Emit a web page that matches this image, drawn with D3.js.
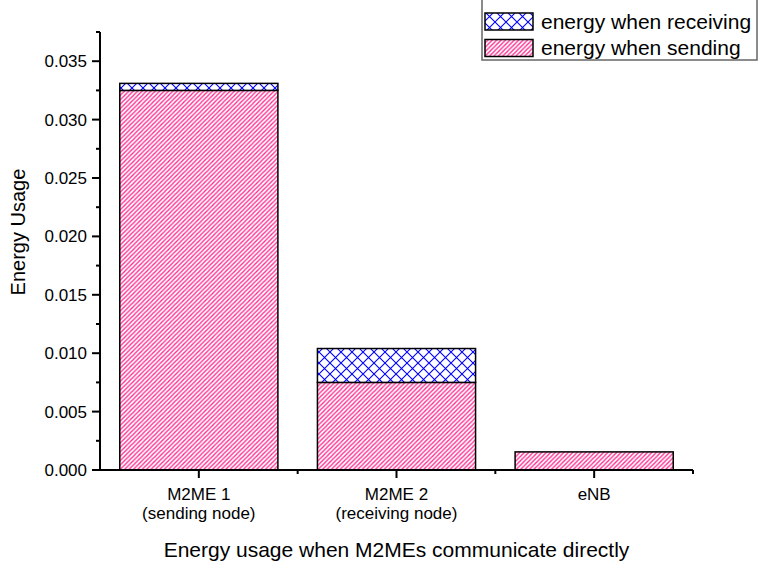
<!DOCTYPE html>
<head>
<meta charset="utf-8">
<script src="https://d3js.org/d3.v7.min.js"></script>
</head>
<style>
body { margin: 0; background: #fff; }
text { font-family: "Liberation Sans", Arial, sans-serif; fill: #000; }
.bar { stroke: #000; stroke-width: 1.5px; }
</style>
<body>
<script>
// data
var categories = ["M2ME 1", "M2ME 2", "eNB"];
var subLabels = ["(sending node)", "(receiving node)", ""];
var sending = [0.0325, 0.0075, 0.00155];
var receiving = [0.0006, 0.0029, 0];
var yTicks = [0, 0.005, 0.010, 0.015, 0.020, 0.025, 0.030, 0.035];
var seriesNames = ["energy when receiving", "energy when sending"];

var W = 758, H = 562;
var plotLeft = 100, plotRight = 693, plotTop = 32, plotBottom = 470;

var svg = d3.select("body").append("svg")
    .attr("width", W)
    .attr("height", H);

// hatch patterns
var defs = svg.append("defs");
var ps = defs.append("pattern")
    .attr("id", "sendHatch")
    .attr("patternUnits", "userSpaceOnUse")
    .attr("width", 4.4).attr("height", 4.4);
ps.append("rect").attr("width", 4.4).attr("height", 4.4).attr("fill", "#fff");
ps.append("path")
    .attr("d", "M-1,1 L1,-1 M0,4.4 L4.4,0 M3.4,5.4 L5.4,3.4")
    .attr("stroke", "#ff2a90").attr("stroke-width", 1.4);

var pr = defs.append("pattern")
    .attr("id", "recvHatch")
    .attr("patternUnits", "userSpaceOnUse")
    .attr("width", 11).attr("height", 11);
pr.append("rect").attr("width", 11).attr("height", 11).attr("fill", "#fff");
pr.append("path")
    .attr("d", "M0,0 L11,11 M0,11 L11,0")
    .attr("stroke", "#0000ff").attr("stroke-width", 1.1);

var x = d3.scaleBand()
    .domain(categories)
    .range([plotLeft, plotRight])
    .paddingInner(0.2)
    .paddingOuter(0.1);

var y = d3.scaleLinear()
    .domain([0, 0.0375])
    .range([plotBottom, plotTop]);

// bars: sending at the bottom, receiving stacked on top
svg.selectAll(".send")
    .data(categories)
  .enter().append("rect")
    .attr("class", "bar send")
    .attr("x", function(d) { return x(d); })
    .attr("width", x.bandwidth())
    .attr("y", function(d, i) { return y(sending[i]); })
    .attr("height", function(d, i) { return y(0) - y(sending[i]); })
    .attr("fill", "url(#sendHatch)");

svg.selectAll(".recv")
    .data(categories.filter(function(d, i) { return receiving[i] > 0; }))
  .enter().append("rect")
    .attr("class", "bar recv")
    .attr("x", function(d) { return x(d); })
    .attr("width", x.bandwidth())
    .attr("y", function(d) { var i = categories.indexOf(d); return y(sending[i] + receiving[i]); })
    .attr("height", function(d) { var i = categories.indexOf(d); return y(sending[i]) - y(sending[i] + receiving[i]); })
    .attr("fill", "url(#recvHatch)");

// y axis
var yAxis = svg.append("g");
yAxis.append("line")
    .attr("x1", plotLeft).attr("x2", plotLeft)
    .attr("y1", plotTop).attr("y2", plotBottom + 1)
    .attr("stroke", "#000").attr("stroke-width", 2);
yAxis.selectAll(".ymaj")
    .data(yTicks)
  .enter().append("line")
    .attr("x1", plotLeft - 8).attr("x2", plotLeft)
    .attr("y1", function(d) { return y(d); })
    .attr("y2", function(d) { return y(d); })
    .attr("stroke", "#000").attr("stroke-width", 2);
yAxis.selectAll(".ymin")
    .data(yTicks.map(function(d) { return d + 0.0025; }))
  .enter().append("line")
    .attr("x1", plotLeft - 4).attr("x2", plotLeft)
    .attr("y1", function(d) { return y(d); })
    .attr("y2", function(d) { return y(d); })
    .attr("stroke", "#000").attr("stroke-width", 2);
yAxis.selectAll(".ylab")
    .data(yTicks)
  .enter().append("text")
    .attr("x", plotLeft - 13)
    .attr("y", function(d) { return y(d); })
    .attr("dy", "0.35em")
    .attr("text-anchor", "end")
    .style("font-size", "17px")
    .text(function(d) { return d3.format(".3f")(d); });

// x axis
var xAxis = svg.append("g");
xAxis.append("line")
    .attr("x1", plotLeft - 1).attr("x2", plotRight)
    .attr("y1", plotBottom).attr("y2", plotBottom)
    .attr("stroke", "#000").attr("stroke-width", 2);
xAxis.selectAll(".xmaj")
    .data(categories)
  .enter().append("line")
    .attr("x1", function(d) { return x(d) + x.bandwidth() / 2; })
    .attr("x2", function(d) { return x(d) + x.bandwidth() / 2; })
    .attr("y1", plotBottom).attr("y2", plotBottom + 8)
    .attr("stroke", "#000").attr("stroke-width", 2);
xAxis.selectAll(".xmin")
    .data(categories)
  .enter().append("line")
    .attr("x1", function(d) { return x(d) + x.bandwidth() / 2 + x.step() / 2; })
    .attr("x2", function(d) { return x(d) + x.bandwidth() / 2 + x.step() / 2; })
    .attr("y1", plotBottom).attr("y2", plotBottom + 4)
    .attr("stroke", "#000").attr("stroke-width", 2);
xAxis.selectAll(".xlab")
    .data(categories)
  .enter().append("text")
    .attr("x", function(d) { return x(d) + x.bandwidth() / 2; })
    .attr("y", plotBottom + 30)
    .attr("text-anchor", "middle")
    .style("font-size", "17px")
    .text(function(d) { return d; });
xAxis.selectAll(".xsub")
    .data(categories)
  .enter().append("text")
    .attr("x", function(d) { return x(d) + x.bandwidth() / 2; })
    .attr("y", plotBottom + 49)
    .attr("text-anchor", "middle")
    .style("font-size", "17px")
    .text(function(d, i) { return subLabels[i]; });

// axis titles
svg.append("text")
    .attr("x", (plotLeft + plotRight) / 2)
    .attr("y", 557)
    .attr("text-anchor", "middle")
    .style("font-size", "21px")
    .text("Energy usage when M2MEs communicate directly");

svg.append("text")
    .attr("transform", "translate(25,232) rotate(-90)")
    .attr("text-anchor", "middle")
    .style("font-size", "20px")
    .text("Energy Usage");

// legend
var legend = svg.append("g");
legend.append("rect")
    .attr("x", 482).attr("y", -1)
    .attr("width", 275).attr("height", 61)
    .attr("fill", "#fff")
    .attr("stroke", "#666").attr("stroke-width", 1.5);
var fills = ["url(#recvHatch)", "url(#sendHatch)"];
seriesNames.forEach(function(name, i) {
  legend.append("rect")
      .attr("x", 485).attr("y", 13 + i * 26.5)
      .attr("width", 48).attr("height", 17)
      .attr("fill", fills[i])
      .attr("stroke", "#000").attr("stroke-width", 1.5);
  legend.append("text")
      .attr("x", 541).attr("y", 28.5 + i * 26.5)
      .style("font-size", "21px")
      .text(name);
});
</script>
</body>
